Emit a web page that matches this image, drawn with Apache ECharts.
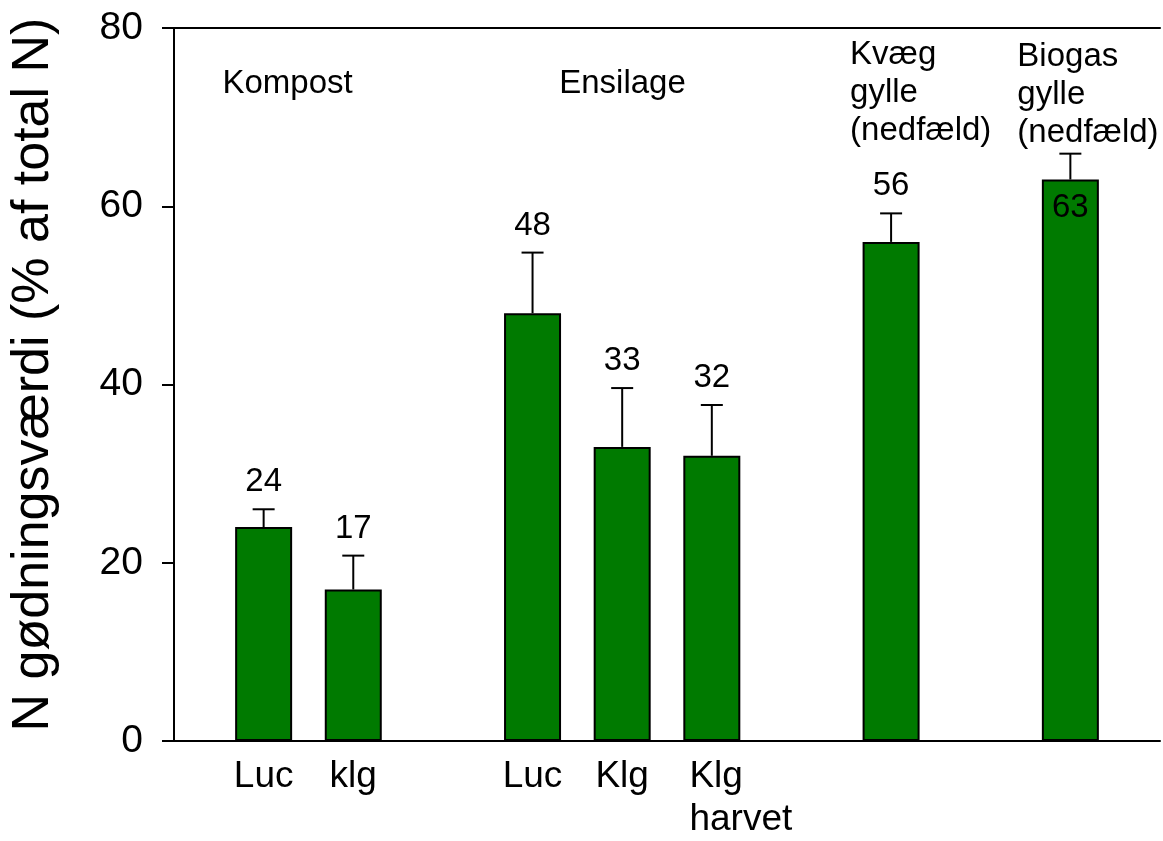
<!DOCTYPE html>
<html>
<head>
<meta charset="utf-8">
<title>N gødningsværdi</title>
<script src="https://cdn.jsdelivr.net/npm/echarts@6/dist/echarts.min.js"></script>
<style>
  html, body { margin: 0; padding: 0; background: #ffffff; overflow: hidden; }
  #chart { width: 1163px; height: 841px; }
</style>
</head>
<body>
<div id="chart"></div>
<script>
// Treatment groups and their bars
const groupNames = ['Kompost', 'Ensilage', 'Kvæg\ngylle\n(nedfæld)', 'Biogas\ngylle\n(nedfæld)'];
const groupSizes = [2, 3, 1, 1];
const barLabels = ['Luc', 'klg', 'Luc', 'Klg', 'Klg\nharvet', '', ''];
// N fertiliser value (% of total N) and standard error for each bar
const values = [24, 17, 48, 33, 32, 56, 63];
const errors = [2.0, 3.8, 6.8, 6.6, 5.7, 3.2, 2.9];
const yTicks = [0, 20, 40, 60, 80];

const FONT = "'Liberation Sans', Arial, Helvetica, sans-serif";
const GREEN = '#007a00';

// Lay bars out on slots, one empty slot between groups
const slotOf = [];
const groupSlots = [];
let pos = 1;
groupSizes.forEach(function (n) {
  const s = [];
  for (let i = 0; i < n; i++) { s.push(pos); slotOf.push(pos); pos++; }
  groupSlots.push(s);
  pos++;
});
const slotCount = pos;
const categories = [];
for (let i = 0; i < slotCount; i++) categories.push('');
slotOf.forEach(function (s, i) { categories[s] = barLabels[i]; });

const barData = values.map(function (v, i) { return [slotOf[i], v]; });
const errData = values.map(function (v, i) { return [slotOf[i], v, v + errors[i], i]; });
const groupData = groupSlots.map(function (s, g) {
  return [s[0], s[s.length - 1], g];
});

// Fine placement of group captions (pixels from the group centre)
const groupStyle = [
  { dx: -86, y: 84, va: 'middle' },
  { dx: -63, y: 84, va: 'middle' },
  { dx: -41, y: 36, va: 'top' },
  { dx: -53, y: 38, va: 'top' }
];
const labelInside = [false, false, false, false, false, false, true];

// Two-line category labels are left-aligned, first line roughly over the bar
function categoryLabel(v) {
  if (v.indexOf('\n') < 0) return v;
  return v.split('\n').map(function (s) { return '{p|}{l|' + s + '}'; }).join('\n');
}

const chart = echarts.init(document.getElementById('chart'), null, { renderer: 'canvas' });

chart.setOption({
  animation: false,
  backgroundColor: '#ffffff',
  textStyle: { fontFamily: FONT },
  grid: { left: 162, right: 0, top: 28, bottom: 90, containLabel: false },
  xAxis: [{
    type: 'category',
    data: categories,
    boundaryGap: false,
    axisLine: { show: true, lineStyle: { color: '#000', width: 2 } },
    axisTick: { show: false },
    splitLine: { show: false },
    axisLabel: {
      interval: 0,
      color: '#000',
      fontFamily: FONT,
      fontSize: 37,
      lineHeight: 43,
      margin: 14,
      formatter: categoryLabel,
      rich: {
        p: { width: 58, align: 'left', fontSize: 37, lineHeight: 43 },
        l: { align: 'left', color: '#000', fontFamily: FONT, fontSize: 37, lineHeight: 43 }
      }
    }
  }, {
    type: 'category',
    data: categories,
    boundaryGap: false,
    position: 'top',
    axisLine: { show: true, lineStyle: { color: '#000', width: 2 } },
    axisTick: { show: false },
    axisLabel: { show: false }
  }],
  yAxis: {
    type: 'value',
    min: yTicks[0],
    max: yTicks[yTicks.length - 1],
    interval: yTicks[1] - yTicks[0],
    name: 'N gødningsværdi (% af total N)',
    nameLocation: 'middle',
    nameRotate: 90,
    nameGap: 114,
    nameTextStyle: { color: '#000', fontFamily: FONT, fontSize: 52, padding: [0, 0, 0, 20] },
    axisLine: { show: true, lineStyle: { color: '#000', width: 2 } },
    axisTick: { show: true, inside: false, length: 12, lineStyle: { color: '#000', width: 2 } },
    splitLine: { show: false },
    axisLabel: { color: '#000', fontFamily: FONT, fontSize: 39, margin: 31 }
  },
  series: [{
    type: 'bar',
    data: barData,
    barWidth: 57,
    itemStyle: { color: GREEN, borderColor: '#000', borderWidth: 2 },
    z: 2
  }, {
    // error bars with the value printed above (or inside) each bar
    type: 'custom',
    data: errData,
    z: 3,
    renderItem: function (params, api) {
      const top = api.coord([api.value(0), api.value(1)]);
      const cap = api.coord([api.value(0), api.value(2)]);
      const idx = api.value(3);
      const half = 11;
      const txt = String(values[idx]);
      const ty = labelInside[idx] ? top[1] + 28 : cap[1] - 27;
      return {
        type: 'group',
        children: [{
          type: 'line',
          shape: { x1: top[0], y1: top[1], x2: cap[0], y2: cap[1] },
          style: { stroke: '#000', lineWidth: 2 }
        }, {
          type: 'line',
          shape: { x1: cap[0] - half, y1: cap[1], x2: cap[0] + half, y2: cap[1] },
          style: { stroke: '#000', lineWidth: 2 }
        }, {
          type: 'text',
          x: top[0],
          y: ty,
          style: {
            text: txt,
            fill: '#000',
            font: '33px ' + FONT,
            align: 'center',
            verticalAlign: 'middle'
          }
        }]
      };
    }
  }, {
    // group captions in the upper part of the plot
    type: 'custom',
    data: groupData,
    z: 3,
    renderItem: function (params, api) {
      const g = api.value(2);
      const a = api.coord([api.value(0), 0]);
      const b = api.coord([api.value(1), 0]);
      const st = groupStyle[g];
      return {
        type: 'text',
        x: (a[0] + b[0]) / 2 + st.dx,
        y: st.y,
        style: {
          text: groupNames[g],
          fill: '#000',
          font: '33px ' + FONT,
          lineHeight: 38,
          align: 'left',
          verticalAlign: st.va
        }
      };
    }
  }]
});
</script>
</body>
</html>
